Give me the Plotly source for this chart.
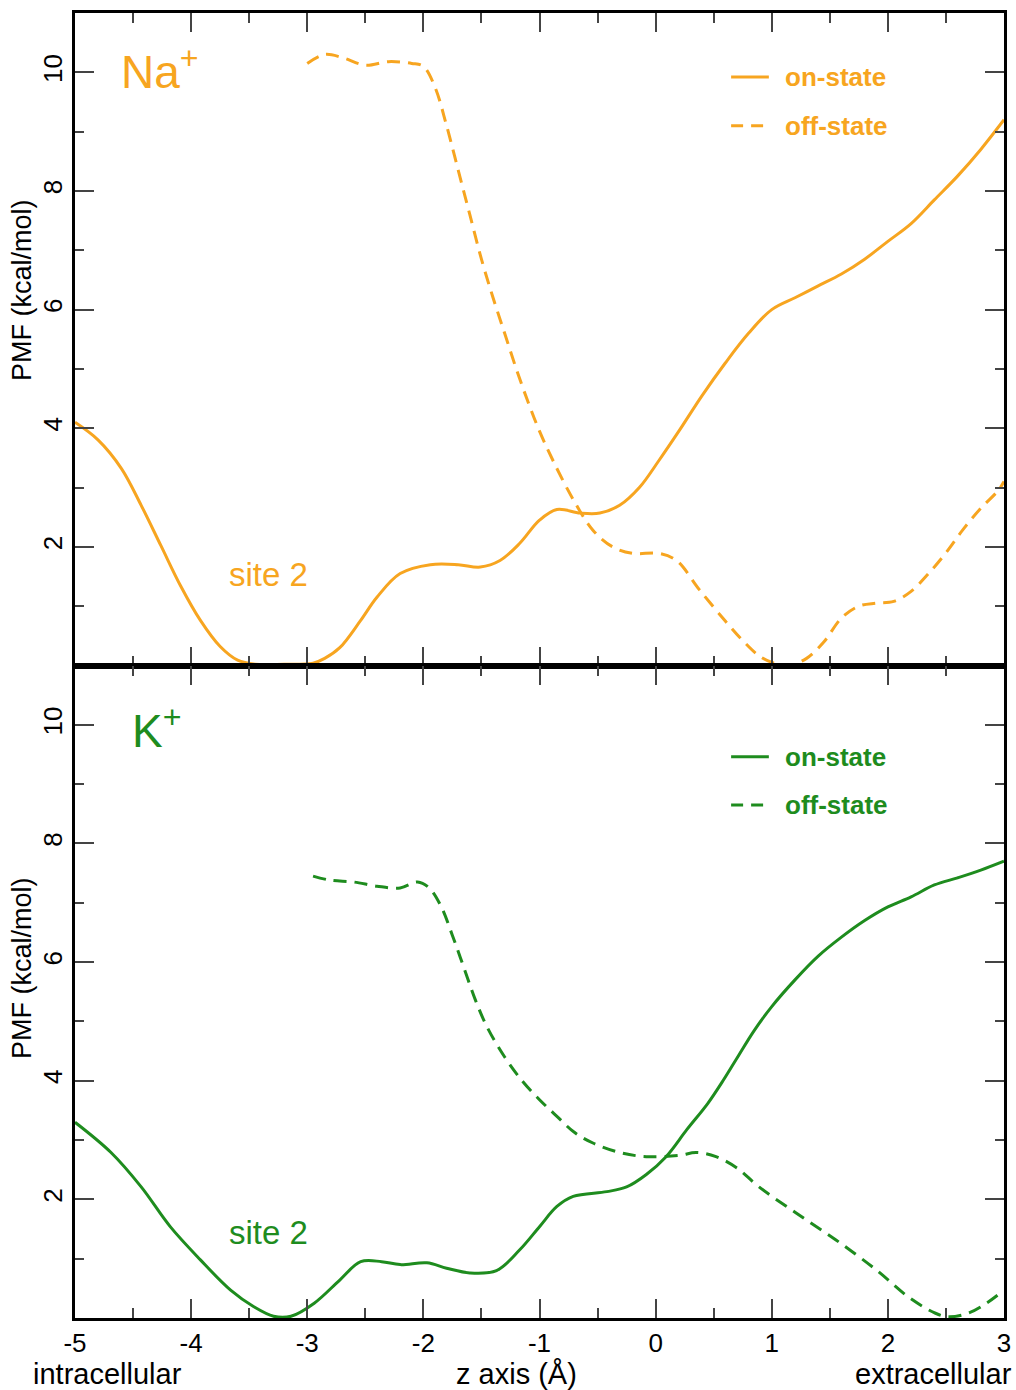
import plotly.graph_objects as go
from plotly.subplots import make_subplots

# ---------------- data ----------------
na_on_z = [-5.0, -4.8, -4.6, -4.43, -4.26, -4.09, -3.92, -3.75, -3.6, -3.45, -3.2, -2.95, -2.85, -2.72, -2.54,
           -2.4, -2.2, -1.94, -1.7, -1.51, -1.34, -1.17, -1.0, -0.85, -0.65, -0.48, -0.31, -0.14, 0.03, 0.2, 0.4,
           0.6, 0.8, 1.0, 1.2, 1.4, 1.6, 1.8, 2.0, 2.2, 2.4, 2.6, 2.8, 3.0]
na_on_pmf = [4.1, 3.8, 3.32, 2.7, 2.02, 1.34, 0.76, 0.32, 0.09, 0.02, 0.02, 0.04, 0.12, 0.3, 0.76,
             1.15, 1.55, 1.7, 1.7, 1.66, 1.77, 2.06, 2.45, 2.63, 2.57, 2.57, 2.7, 3.0, 3.46, 3.95, 4.55,
             5.1, 5.6, 6.0, 6.2, 6.4, 6.6, 6.85, 7.15, 7.45, 7.85, 8.25, 8.7, 9.2]

na_off_z = [-3.0, -2.85, -2.7, -2.5, -2.3, -2.1, -2.0, -1.9, -1.8, -1.7, -1.6, -1.5, -1.4, -1.3, -1.2, -1.1, -1.0,
            -0.885, -0.71, -0.54, -0.37, -0.2, 0.03, 0.18, 0.38, 0.6, 0.75, 0.9, 1.05, 1.15, 1.3, 1.45, 1.6, 1.75,
            1.9, 2.05, 2.2, 2.35, 2.5, 2.65, 2.8, 2.95, 3.0]
na_off_pmf = [10.15, 10.3, 10.25, 10.12, 10.18, 10.15, 10.1, 9.75, 9.1, 8.35, 7.6, 6.85, 6.2, 5.6, 5.0, 4.45, 3.95,
              3.46, 2.8, 2.28, 2.0, 1.89, 1.89, 1.77, 1.27, 0.75, 0.42, 0.15, 0.02, 0.0, 0.12, 0.4, 0.8, 1.0,
              1.05, 1.08, 1.25, 1.55, 1.9, 2.3, 2.65, 2.95, 3.1]

k_on_z = [-5.0, -4.69, -4.43, -4.18, -3.92, -3.66, -3.46, -3.29, -3.14, -2.94, -2.72, -2.54, -2.36, -2.2, -1.97,
          -1.8, -1.6, -1.37, -1.17, -1.0, -0.85, -0.71, -0.42, -0.25, -0.08, 0.09, 0.27, 0.45, 0.58, 0.7, 0.85,
          1.0, 1.2, 1.4, 1.6, 1.8, 2.0, 2.2, 2.4, 2.6, 2.8, 3.0]
k_on_pmf = [3.3, 2.79, 2.21, 1.54, 0.98, 0.47, 0.19, 0.03, 0.03, 0.25, 0.64, 0.95, 0.95, 0.9, 0.93,
            0.84, 0.76, 0.8, 1.15, 1.54, 1.88, 2.05, 2.13, 2.21, 2.42, 2.72, 3.18, 3.62, 4.0, 4.38, 4.85,
            5.25, 5.7, 6.1, 6.42, 6.7, 6.93, 7.1, 7.3, 7.42, 7.55, 7.7]

k_off_z = [-2.95, -2.8, -2.6, -2.4, -2.2, -2.05, -1.95, -1.85, -1.75, -1.65, -1.55, -1.45, -1.3, -1.15, -1.0,
           -0.85, -0.7, -0.54, -0.31, -0.08, 0.2, 0.35, 0.52, 0.7, 0.89, 1.21, 1.55, 1.9, 2.18, 2.41, 2.52, 2.69,
           2.85, 3.0]
k_off_pmf = [7.45, 7.38, 7.35, 7.28, 7.25, 7.35, 7.25, 6.95, 6.45, 5.9, 5.35, 4.9, 4.4, 4.0, 3.68,
             3.4, 3.13, 2.95, 2.79, 2.72, 2.74, 2.79, 2.72, 2.53, 2.21, 1.77, 1.32, 0.81, 0.35, 0.08, 0.02, 0.08,
             0.25, 0.47]

x_ticks = [-5, -4, -3, -2, -1, 0, 1, 2, 3]
y_ticks = [2, 4, 6, 8, 10]

ORANGE = "#F7A520"
GREEN = "#1E8C1E"
FONT = "Liberation Sans, Arial, sans-serif"

fig = make_subplots(rows=2, cols=1, shared_xaxes=True, vertical_spacing=0)

fig.add_trace(go.Scatter(x=na_on_z, y=na_on_pmf, mode="lines", line=dict(color=ORANGE, width=3, shape="spline"),
                         showlegend=False), row=1, col=1)
fig.add_trace(go.Scatter(x=na_off_z, y=na_off_pmf, mode="lines",
                         line=dict(color=ORANGE, width=3, dash="13px,8px", shape="spline"),
                         showlegend=False), row=1, col=1)
fig.add_trace(go.Scatter(x=k_on_z, y=k_on_pmf, mode="lines", line=dict(color=GREEN, width=3, shape="spline"),
                         showlegend=False), row=2, col=1)
fig.add_trace(go.Scatter(x=k_off_z, y=k_off_pmf, mode="lines",
                         line=dict(color=GREEN, width=3, dash="13px,8px", shape="spline"),
                         showlegend=False), row=2, col=1)

xcommon = dict(range=[-5, 3], tickvals=x_ticks, ticks="inside", ticklen=19, tickwidth=1.5, tickcolor="#444",
               minor=dict(dtick=0.5, tick0=0, ticks="inside", ticklen=10, tickwidth=1.5, tickcolor="#444"),
               showline=True, linewidth=3, linecolor="black", mirror="allticks", showgrid=False, zeroline=False)
fig.update_xaxes(**xcommon)
fig.update_xaxes(showticklabels=False, row=1, col=1)
fig.update_xaxes(showticklabels=True, ticktext=[str(v) for v in x_ticks],
                 tickfont=dict(family=FONT, size=26, color="black"), row=2, col=1)

ycommon = dict(range=[0, 11], tickvals=y_ticks, ticks="inside", ticklen=19, tickwidth=1.5, tickcolor="#444",
               minor=dict(tickvals=[1, 3, 5, 7, 9], ticks="inside", ticklen=9, tickwidth=1.5, tickcolor="#444"),
               showline=True, linewidth=3, linecolor="black", mirror="allticks", showgrid=False, zeroline=False,
               tickangle=-90, tickfont=dict(family=FONT, size=26, color="black"))
fig.update_yaxes(**ycommon)

# y-axis titles
for yr, yv in [("y", 6.33), ("y2", 5.9)]:
    fig.add_annotation(x=0, y=yv, xref="paper", yref=yr, xshift=-53, xanchor="center", yanchor="middle",
                       text="PMF (kcal/mol)", showarrow=False, textangle=-90,
                       font=dict(family=FONT, size=27, color="black"))

# panel labels
fig.add_annotation(x=-4.62, y=10.05, xref="x", yref="y", text="Na<sup>+</sup>", showarrow=False, xanchor="left",
                   font=dict(family=FONT, size=46, color=ORANGE))
fig.add_annotation(x=-4.53, y=9.95, xref="x2", yref="y2", text="K<sup>+</sup>", showarrow=False, xanchor="left",
                   font=dict(family=FONT, size=46, color=GREEN))
fig.add_annotation(x=-3.33, y=1.54, xref="x", yref="y", text="site 2", showarrow=False,
                   font=dict(family=FONT, size=33, color=ORANGE))
fig.add_annotation(x=-3.33, y=1.44, xref="x2", yref="y2", text="site 2", showarrow=False,
                   font=dict(family=FONT, size=33, color=GREEN))

# in-panel legends
legend_rows = [("x", "y", ORANGE, 9.92, 9.1), ("x2", "y2", GREEN, 9.46, 8.65)]
for xr, yr, col, y_on, y_off in legend_rows:
    fig.add_shape(type="line", xref=xr, yref=yr, x0=0.65, x1=0.975, y0=y_on, y1=y_on,
                  line=dict(color=col, width=3))
    fig.add_shape(type="line", xref=xr, yref=yr, x0=0.65, x1=0.975, y0=y_off, y1=y_off,
                  line=dict(color=col, width=3, dash="12px,8px"))
    fig.add_annotation(x=1.1, y=y_on, xref=xr, yref=yr, text="<b>on-state</b>", showarrow=False, xanchor="left",
                       font=dict(family=FONT, size=26, color=col))
    fig.add_annotation(x=1.1, y=y_off, xref=xr, yref=yr, text="<b>off-state</b>", showarrow=False, xanchor="left",
                       font=dict(family=FONT, size=26, color=col))

# bottom labels
fig.add_annotation(x=0.0, y=0, xref="paper", yref="paper", yshift=-38, text="intracellular", showarrow=False,
                   xanchor="left", yanchor="top", xshift=-44, font=dict(family=FONT, size=29, color="black"))
fig.add_annotation(x=-1.2, y=0, xref="x2", yref="paper", yshift=-38, text="z axis (Å)", showarrow=False,
                   xanchor="center", yanchor="top", font=dict(family=FONT, size=29, color="black"))
fig.add_annotation(x=1.0, y=0, xref="paper", yref="paper", yshift=-38, text="extracellular", showarrow=False,
                   xanchor="right", yanchor="top", xshift=10, font=dict(family=FONT, size=29, color="black"))

fig.update_layout(width=1016, height=1390, margin=dict(l=75, r=5, t=13, b=72),
                  plot_bgcolor="white", paper_bgcolor="white", font=dict(family=FONT))

fig.write_html("out.html")
